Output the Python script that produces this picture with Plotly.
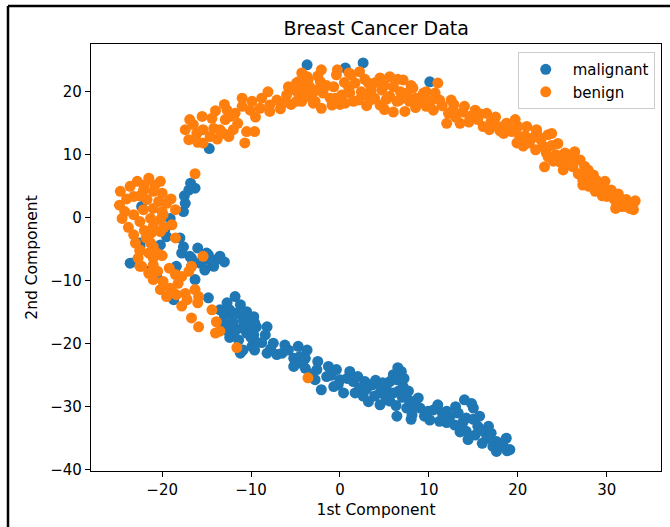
import plotly.graph_objects as go

# 2-D embedding of the breast cancer samples, split by diagnosis
malignant_x = [
    -14.7, -3.7, 0.6, 2.6, 10.1,
    -16.3, -17.0, -17.4, -17.6, -19.1, -19.7, -22.5, -20.2, -23.6, -17.6, -17.8, -16.9,
    -16.7, -15.0, -14.0, -15.7, -18.4, -22.3,
    -16.7, -14.8, -13.5, -14.2, -15.2, -20.6, -18.7, -11.8, -13.5, -12.4, -11.6, -13.1,
    -12.0, -10.9, -10.3, -9.7, -12.4, -11.4, -11.2, -9.9, -14.8, -16.3, -21.3, -12.7,
    -11.2, -10.5, -9.7, -9.6, -12.4,
    -10.5, -9.4, -8.2, -10.5, -9.7, -8.4, -10.9, -9.6, -8.2, -7.5, -7.1, -5.8, -4.7,
    -3.7, -5.2, -3.9, -5.2, -3.9, -2.6, -2.8, -1.3, -1.5, -0.4, -0.7, 0.0, 1.1, 1.5,
    0.4, 1.7, 2.6, 2.8, 3.7, 4.5, 5.2, 5.2, -2.1,
    3.6, 6.9, 6.4, 5.6, 4.7, 3.9, 4.5, 5.6, 6.6, 7.7, 6.4, 7.5, 8.1, 8.8, 9.0, 9.9,
    10.1, 11.0, 11.2, 12.4, 12.9, 13.3, 14.0, 14.2, 15.0, 14.2, 14.4, 15.5, 15.7, 16.7,
    16.5, 17.6, 17.6, 18.7, 19.1, 18.4, 6.0, 7.1, 12.0,
    -13.0, -12.0, -11.0, -10.0, -11.8, -13.0, -12.8, -8.8, -7.8, -6.5, -6.2, -4.5, -4.2,
    -2.5, -3.2, -1.0, -0.2, 0.8, 2.0, 2.2, 3.0, 4.0, 4.8, 5.0, 6.0, 6.3, 7.0, 7.8, 8.5,
    8.0, 9.5, 10.5, 11.5, 12.0, 13.0, 13.8, 13.5, 15.0, 15.2, 16.0, 17.0, 17.2, 18.0,
    18.8, 16.0, 14.8, 6.5, 7.2, 3.2, -16.0, -15.5, -14.5, -13.0, -18.0, -17.5, -16.8,
    -19.5, -23.0, -22.5,
]
malignant_y = [
    11.0, 24.3, 23.8, 24.6, 21.6,
    4.7, 4.4, 2.3, 1.0, -0.1, -1.9, -4.0, -4.3, -7.2, -4.6, -5.6, -6.1,
    -7.7, -5.6, -6.7, -7.2, -7.7, 1.8,
    -6.4, -5.9, -6.1, -7.7, -8.3, -9.3, -13.0, -12.5, -14.6, -14.6, -15.1, -16.2,
    -16.7, -16.2, -17.3, -18.6, -18.3, -19.4, -21.5, -20.4, -12.7, -9.8, -8.3, -13.5,
    -13.8, -14.9, -15.7, -16.7, -19.0,
    -16.2, -17.3, -17.3, -18.3, -19.4, -18.6, -21.0, -21.0, -21.5, -19.9, -21.7, -21.0, -20.4,
    -21.0, -22.3, -22.3, -23.6, -23.9, -24.1, -25.7, -23.6, -25.2, -24.1, -26.8, -25.7, -24.4, -26.0,
    -27.8, -27.8, -28.3, -26.0, -26.5, -27.8, -26.8, -28.9, -27.3,
    -26.5, -24.4, -25.7, -26.0, -27.0, -28.3, -29.7, -29.1, -27.5, -27.5, -31.5, -30.2, -31.3, -28.6, -30.2, -30.7,
    -32.1, -29.7, -32.3, -31.5, -32.9, -31.0, -28.9, -31.8, -30.2, -33.9, -35.2, -33.1, -31.5, -33.1,
    -35.0, -35.5, -37.1, -35.0, -36.8, -36.3, -24.9, -26.8, -30.7,
    -15.5, -15.5, -17.5, -19.0, -18.0, -17.3, -17.8, -19.8, -20.8, -21.5, -20.2, -22.0, -23.2,
    -22.8, -24.8, -25.0, -26.5, -25.5, -25.2, -27.0, -27.2, -25.8, -26.2, -28.0, -27.8, -29.8, -28.5, -29.0, -29.8,
    -32.0, -31.5, -30.5, -31.0, -32.5, -30.0, -32.5, -34.0, -32.0, -34.5, -33.8, -34.2, -36.3, -36.0,
    -37.0, -35.8, -29.5, -23.8, -25.5, -29.2, -4.8, -6.8, -7.0, -7.0, -3.2, 3.5, 5.5,
    -3.0, -7.0, -4.5,
]

benign_x = [
    -16.9, -17.4, -15.5, -14.4, -15.4, -14.2, -17.0, -15.4, -13.5, -12.5, -12.7, -12.9,
    -11.8, -11.0, -9.9, -10.1, -9.0, -8.1, -7.9, -7.9, -6.4, -10.5, -9.6, -10.7, -16.1,
    -14.6, -13.1, -12.4, -11.0, -7.1,
    -4.3, -4.7, -4.1, -4.7, -4.3, -3.7, -3.6,
    -4.9, -4.7, -4.9, -3.7, -3.4, -3.9, -3.0, -2.1, -2.2, -1.9, -2.1, -0.9, -0.7, -0.4,
    0.2, 0.6, 1.3, 1.7, 2.2, 2.4, 3.4, 3.2, 4.5, 4.7, 4.5, 5.6, 6.0, 5.6, 6.4, 7.1, 7.5,
    7.3, 8.2, 8.8, 9.4, 9.7, -5.1, -2.6, -1.1, 1.1, 2.1, 3.9, 6.7,
    11.0, 9.2, 10.7, 11.2, 10.5, 12.5, 12.2, 12.0, 13.5, 14.0, 15.2, 15.5, 16.5, 17.0,
    16.1, 17.8, 18.4, 19.7, 19.3, 20.2, 21.0, 21.3, 22.1, 22.6, 23.4, 19.9, 23.2, 9.7,
    9.4, 12.7, 14.6, 18.7, 20.6,
    22.1, 23.8, 20.6, 22.8, 23.4, 23.0, 24.3, 25.3, 26.4, 27.0, 25.1, 26.2, 27.9, 27.3,
    28.8, 29.6, 28.7, 30.5, 30.0, 31.5, 31.1, 32.2, 33.0, 33.0, 32.2, 31.7, 28.3, 27.7,
    24.7, 25.8, 22.5, 29.0,
    -16.3, -24.7, -23.6, -22.8, -21.5, -20.2, -22.1, -21.0, -20.0, -23.2, -21.7, -20.4,
    -19.5, -18.5, -24.2, -24.5, -23.2, -22.1, -22.5, -21.3, -20.2, -19.9, -21.0, -23.2,
    -21.2, -20.2, -18.5, -21.3, -22.5, -21.5, -21.0, -22.7, -22.5, -15.4, -18.9,
    -22.5, -21.0, -20.6, -22.3, -21.5, -21.0, -19.9, -20.2, -19.1, -19.5, -18.2, -17.8,
    -17.0, -16.7, -18.4, -17.4, -17.2, -16.3, -15.9, -14.4, -16.7, -15.9, -13.9, -14.0,
    -13.5, -11.6, -3.6,
    -4.0, -3.0, -2.5, -1.5, -0.5, 0.5, 1.0, 1.5, 2.8, 2.9, 3.5, 4.0, 5.0, 5.2, 6.5, 6.8,
    7.8, 8.5, 8.0, -0.3, 1.0, -6.0, -5.5, -5.8, -8.8, -9.5, -11.5, -12.0, -13.8, -16.5,
    -16.0, -14.0, -13.0, -6.7, -2.8, 0.0, 3.0, 5.0, 8.5, 6.0,
    10.2, 11.5, 12.8, 13.0, 13.8, 14.5, 15.8, 16.8, 17.5, 18.0, 19.0, 20.0, 20.8, 21.8,
    22.0, 23.8, 24.0, 24.8, 25.5, 26.0, 26.8, 27.5, 28.0, 28.5, 29.3, 29.8, 30.2, 30.8,
    31.3, 32.0, 32.6, 33.2, 31.0, 29.5, 24.5, 27.3,
    -24.0, -22.5, -21.0, -20.0, -23.8, -22.0, -19.8, -22.0, -20.8, -19.0, -24.8, -23.0,
    -21.8, -20.0, -19.2, -21.0, -20.5, -18.5, -18.8, -16.0, -17.8,
]
benign_y = [
    15.6, 14.0, 16.1, 15.8, 14.0, 14.2, 12.4, 11.9, 14.0, 12.9, 17.1, 15.6,
    16.6, 19.0, 18.5, 17.1, 17.4, 20.0, 17.9, 16.9, 18.2, 13.7, 13.7, 11.9, 13.4,
    12.9, 13.4, 16.1, 17.7, 18.7,
    23.0, 21.6, 20.8, 19.8, 18.5, 19.3, 21.9,
    21.4, 20.0, 18.5, 22.4, 20.8, 19.3, 18.2, 23.5, 21.6, 19.8, 17.4, 17.9, 20.8, 22.7,
    19.5, 18.2, 22.7, 21.4, 23.2, 20.0, 18.7, 21.4, 22.2, 20.3, 17.9, 22.4, 20.8, 19.3, 18.5, 21.9, 19.8,
    16.9, 20.6, 18.2, 19.8, 17.7, 20.3, 20.3, 19.0, 19.8, 18.7, 19.0, 18.7,
    21.4, 19.3, 19.8, 18.7, 17.1, 18.7, 16.6, 15.0, 15.0, 17.7, 17.1, 15.6, 16.6, 15.3,
    14.5, 14.5, 13.4, 15.6, 13.7, 12.9, 14.5, 11.9, 14.0, 12.4, 13.2, 11.9, 10.3, 20.0,
    18.2, 17.1, 16.1, 15.0, 11.4,
    13.7, 13.4, 12.4, 11.4, 9.7, 8.1, 10.0, 10.3, 10.5, 9.2, 7.6, 8.1, 7.6, 6.0,
    6.0, 5.0, 4.2, 4.4, 3.4, 3.1, 2.3, 2.9, 2.3, 1.3, 1.8, 1.8, 5.5, 6.8,
    8.9, 9.2, 12.7, 5.0,
    7.0, 4.2, 5.0, 5.8, 6.3, 5.8, 4.4, 4.2, 3.9, 3.4, 2.9, 2.6,
    2.3, 1.3, 1.0, -0.1, 0.5, 1.3, -0.6, -0.1, -0.3, 0.5, -1.4, -2.7,
    -2.4, -2.2, -3.2, -4.0, -5.1, -5.6, -6.4, -6.4, -7.7, -6.1, -1.1,
    -5.3, -4.6, -5.6, -7.7, -8.8, -9.8, -10.1, -11.4, -11.2, -12.5, -10.4, -9.3,
    -8.5, -7.7, -12.2, -12.0, -13.0, -11.4, -12.5, -14.6, -15.9, -17.3, -16.5, -18.3,
    -18.0, -20.6, -25.4,
    22.0, 20.0, 22.5, 21.0, 19.0, 21.5, 20.5, 18.5, 22.0, 19.5, 20.2, 21.5, 21.0, 18.8, 22.0, 20.0,
    18.5, 19.0, 21.0, 23.5, 23.0, 19.5, 18.0, 20.8, 19.0, 16.0, 15.0, 14.0, 12.5, 14.8,
    12.0, 17.0, 18.0, 17.3, 18.5, 18.0, 17.8, 17.2, 17.5, 16.8,
    18.5, 17.8, 18.0, 16.0, 16.8, 15.2, 16.5, 14.0, 16.0, 13.8, 14.2, 14.5, 13.0, 12.8,
    10.8, 11.5, 9.0, 9.8, 8.5, 9.5, 7.0, 8.2, 5.0, 6.8, 4.5, 5.8, 4.0, 3.0,
    3.8, 2.2, 1.5, 2.7, 1.5, 3.5, 11.8, 5.2,
    3.0, 3.5, 1.5, 1.0, -1.5, -2.0, -1.5, 5.2, 5.2, 3.0, 2.0, -4.0,
    -3.2, -6.0, -8.0, -7.5, -8.5, -9.0, -11.8, -13.5, -14.0,
]

x_ticks = [-20, -10, 0, 10, 20, 30]
y_ticks = [-40, -30, -20, -10, 0, 10, 20]

FONT = "DejaVu Sans, Liberation Sans, sans-serif"

fig = go.Figure()
fig.add_trace(go.Scatter(
    x=malignant_x, y=malignant_y, mode="markers", name="malignant",
    marker=dict(color="#1f77b4", size=11, line=dict(width=0)),
))
fig.add_trace(go.Scatter(
    x=benign_x, y=benign_y, mode="markers", name="benign",
    marker=dict(color="#ff7f0e", size=11, line=dict(width=0)),
))

axis_common = dict(
    showgrid=False, zeroline=False, showline=True, linecolor="black", linewidth=1.2,
    mirror=True, ticks="outside", ticklen=5, tickwidth=1.2, tickcolor="black",
    tickfont=dict(family=FONT, size=15, color="black"),
)

fig.update_layout(
    width=670, height=527,
    margin=dict(l=91, r=9, t=44, b=56),
    paper_bgcolor="white", plot_bgcolor="white",
    title=dict(text="Breast Cancer Data", x=0.5615, xanchor="center",
               y=1 - 28 / 527, yanchor="middle", yref="container",
               font=dict(family=FONT, size=19, color="black")),
    xaxis=dict(range=[-28.0, 36.1], tickvals=x_ticks,
               title=dict(text="1st Component", standoff=6,
                          font=dict(family=FONT, size=15.5, color="black")),
               **axis_common),
    yaxis=dict(range=[-40.2, 27.6], tickvals=y_ticks,
               title=dict(text="2nd Component", standoff=8,
                          font=dict(family=FONT, size=15.5, color="black")),
               **axis_common),
    legend=dict(x=0.989, y=0.981, xanchor="right", yanchor="top",
                bgcolor="rgba(255,255,255,0.8)", bordercolor="#cccccc", borderwidth=1,
                font=dict(family=FONT, size=15, color="black"),
                itemwidth=44, tracegroupgap=0),
    showlegend=True,
)

# outer frame around the figure (left and top edges)
fx0 = (8 - 91) / 570
fy1 = (471 - 6) / 427
fig.add_shape(type="line", xref="paper", yref="paper", x0=fx0, x1=fx0, y0=-0.3, y1=fy1,
              line=dict(color="black", width=2.5))
fig.add_shape(type="line", xref="paper", yref="paper", x0=fx0, x1=1.2, y0=fy1, y1=fy1,
              line=dict(color="black", width=2.5))

fig.write_html("out.html")
